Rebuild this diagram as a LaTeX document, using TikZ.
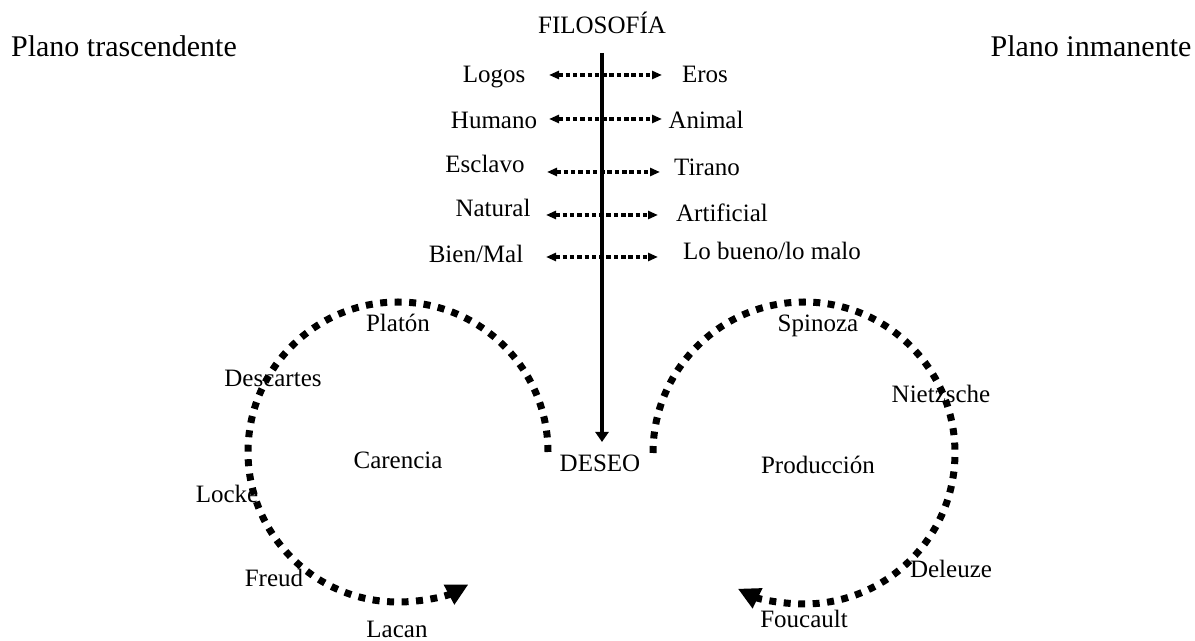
\documentclass[tikz,border=0pt]{standalone}
\usepackage{fontspec}
\setmainfont{Liberation Serif}
\usetikzlibrary{arrows.meta}
\begin{document}
\begin{tikzpicture}[x=0.5pt,y=0.5pt,
  lbl/.style={font=\fontsize{12.5}{15}\selectfont, anchor=base, inner sep=0pt},
  plano/.style={font=\fontsize{15}{18}\selectfont, anchor=base, inner sep=0pt},
  pairarrow/.style={line width=1.6pt, dash pattern=on 2.25pt off 1.4pt,
    {Triangle[length=5pt,width=4pt]}-{Triangle[length=5pt,width=4pt]}},
  cyclearc/.style={line width=3.5pt, dash pattern=on 3.5pt off 3.75pt,
    -{Triangle[length=11pt,width=10.5pt]}},
  mainaxis/.style={line width=1.75pt, -{Triangle[length=5pt,width=6.5pt]}}]
\useasboundingbox (0,0) rectangle (1195,-641);

% headings
\node[plano] (pt) at (124,-57) {Plano trascendente};
\node[plano] (pi) at (1091,-57) {Plano inmanente};
\node[lbl] (filo) at (602,-34) {FILOSOFÍA};
\node[lbl] (deseo) at (600,-472) {DESEO};

% pairs
\node[lbl] (logos) at (494,-83) {Logos};
\node[lbl] (eros) at (705,-83) {Eros};
\node[lbl] (humano) at (494,-129) {Humano};
\node[lbl] (animal) at (706,-129) {Animal};
\node[lbl] (esclavo) at (485,-173) {Esclavo};
\node[lbl] (tirano) at (707,-176) {Tirano};
\node[lbl] (natural) at (493,-217) {Natural};
\node[lbl] (artificial) at (722,-222) {Artificial};
\node[lbl] (bien) at (476,-263) {Bien/Mal};
\node[lbl] (bueno) at (772,-260) {Lo bueno/lo malo};

\coordinate (l1) at (549,-75);  \coordinate (r1) at (662,-75);
\coordinate (l2) at (549,-119); \coordinate (r2) at (662,-119);
\coordinate (l3) at (547,-172); \coordinate (r3) at (660,-172);
\coordinate (l4) at (546,-215); \coordinate (r4) at (658,-215);
\coordinate (l5) at (546,-257); \coordinate (r5) at (658,-257);
\draw[pairarrow] (l1) -- (r1);
\draw[pairarrow] (l2) -- (r2);
\draw[pairarrow] (l3) -- (r3);
\draw[pairarrow] (l4) -- (r4);
\draw[pairarrow] (l5) -- (r5);

% main axis
\coordinate (axtop) at (602,-53);
\coordinate (axbot) at (602,-442);
\draw[mainaxis] (axtop) -- (axbot);

% left cycle
\node[lbl] (carencia) at (398,-469) {Carencia};
\node[lbl] (platon) at (398,-332) {Platón};
\node[lbl] (descartes) at (273,-387) {Descartes};
\node[lbl] (locke) at (227,-503) {Locke};
\node[lbl] (freud) at (274,-587) {Freud};
\node[lbl] (lacan) at (397,-638) {Lacan};
\coordinate (lstart) at (548,-452);
\draw[cyclearc] (lstart) arc[start angle=0, end angle=298, radius=150];

% right cycle
\node[lbl] (produccion) at (818,-474) {Producción};
\node[lbl] (spinoza) at (818,-332) {Spinoza};
\node[lbl] (nietzsche) at (941,-403) {Nietzsche};
\node[lbl] (deleuze) at (951,-578) {Deleuze};
\node[lbl] (foucault) at (804,-628) {Foucault};
\coordinate (rstart) at (653,-453);
\draw[cyclearc] (rstart) arc[start angle=180, end angle=-116, radius=151];
\end{tikzpicture}
\end{document}
